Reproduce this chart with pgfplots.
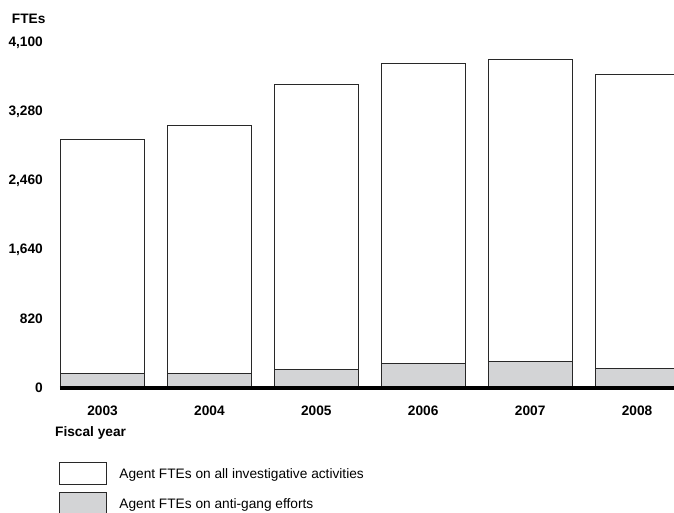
\documentclass[border=0pt]{standalone}
\usepackage{fontspec}
\setmainfont{Liberation Sans}
\usepackage{pgfplots}
\pgfplotsset{compat=1.18}

\definecolor{gangfill}{RGB}{211,212,214}
\definecolor{edge}{RGB}{40,40,40}

% FTEs by fiscal year (index 0 = 2003)
\pgfplotstableread{
x  total gang
0  2945  175
1  3119  175
2  3606  222
3  3855  293
4  3903  312
5  3725  234
}\ftes

\begin{document}
\begin{tikzpicture}
\useasboundingbox (0,0) rectangle (674bp,513bp);
\begin{axis}[
    at={(60bp,125bp)}, anchor=south west,
    scale only axis, width=614bp, height=345.3bp,
    xmin=-0.3976, xmax=5.3456, ymin=0, ymax=4100,
    enlargelimits=false,
    axis on top,
    axis x line*=bottom, axis y line*=left,
    x axis line style={-, line width=3.3bp, black},
    y axis line style={draw=none},
    tick style={draw=none},
    xtick={0,...,5}, xticklabels={2003,2004,2005,2006,2007,2008},
    ytick={0,820,1640,2460,3280,4100},
    /pgf/number format/assume math mode=true,
    /pgf/number format/1000 sep={,},
    ticklabel style={font=\bfseries\fontsize{13.7bp}{14bp}\selectfont, inner sep=0pt},
    xticklabel style={anchor=north, yshift=-13bp},
    yticklabel style={anchor=east, xshift=-17bp},
    ybar, bar width=84bp,
    legend style={at={(axis description cs:-0.001,-0.2134)}, anchor=north west,
        draw=none, fill=none, inner sep=0pt, outer sep=0pt,
        column sep=12.6bp, row sep=6.4bp,
        font=\fontsize{13.7bp}{14bp}\selectfont,
        nodes={inner sep=0pt}},
    legend cell align=left,
    legend image code/.code={\draw[#1, line width=1bp] (0bp,-10.5bp) rectangle (46.4bp,12.1bp);},
]
\addplot[bar shift=0pt, fill=white, draw=edge, line width=1bp] table[x=x, y=total] {\ftes};
\addlegendentry{Agent FTEs on all investigative activities}
\addplot[bar shift=0pt, fill=gangfill, draw=edge, line width=1bp] table[x=x, y=gang] {\ftes};
\addlegendentry{Agent FTEs on anti-gang efforts}
\end{axis}
\node[anchor=west, inner sep=0pt, font=\bfseries\fontsize{13.7bp}{14bp}\selectfont] at (11.7bp,494.3bp) {FTEs};
\node[anchor=west, inner sep=0pt, font=\bfseries\fontsize{13.7bp}{14bp}\selectfont] at (55bp,79.7bp) {Fiscal year};
\end{tikzpicture}
\end{document}
